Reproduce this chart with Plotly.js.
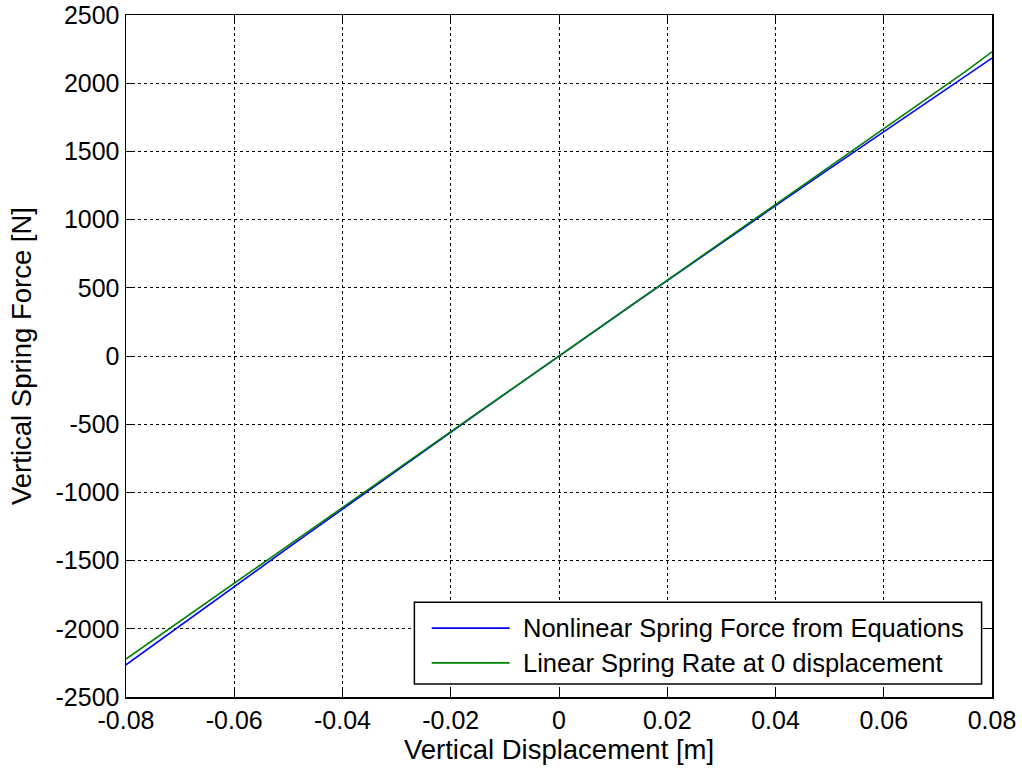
<!DOCTYPE html>
<html>
<head>
<meta charset="utf-8">
<script src="https://cdn.plot.ly/plotly-3.0.1.min.js"></script>
<style>html,body{margin:0;padding:0;background:#fff;}#chart{width:1022px;height:771px;}</style>
</head>
<body>
<div id="chart"></div>
<script>
const displacement = [-0.08,-0.075,-0.07,-0.065,-0.06,-0.055,-0.05,-0.045,-0.04,-0.035,-0.03,-0.025,-0.02,-0.015,-0.01,-0.005,0,0.005,0.01,0.015,0.02,0.025,0.03,0.035,0.04,0.045,0.05,0.055,0.06,0.065,0.07,0.075,0.08];
const nonlinearForce = [-2264,-2120,-1977,-1833,-1690,-1548,-1405,-1264,-1122,-981,-840,-699,-559,-418,-279,-139,0,139,277,416,553,691,828,965,1102,1238,1374,1510,1645,1780,1915,2050,2184];
const linearForce = [-2222,-2083,-1945,-1806,-1667,-1528,-1389,-1250,-1111,-972,-833,-694,-556,-417,-278,-139,0,139,278,417,556,694,833,972,1111,1250,1389,1528,1667,1806,1945,2083,2230];
const xTickVals = [-0.08,-0.06,-0.04,-0.02,0,0.02,0.04,0.06,0.08];
const xTickText = ["-0.08","-0.06","-0.04","-0.02","0","0.02","0.04","0.06","0.08"];
const yTickVals = [-2500,-2000,-1500,-1000,-500,0,500,1000,1500,2000,2500];
const yTickText = ["-2500","-2000","-1500","-1000","-500","0","500","1000","1500","2000","2500"];
const seriesNames = ["Nonlinear Spring Force from Equations","Linear Spring Rate at 0 displacement"];
const seriesColors = ["#0000ff", "#008000"];

const font = "Liberation Sans, Arial, sans-serif";
const traces = [
  {x: displacement, y: nonlinearForce, type: "scatter", mode: "lines", name: seriesNames[0], showlegend: false, line: {color: seriesColors[0], width: 1.6}},
  {x: displacement, y: linearForce, type: "scatter", mode: "lines", name: seriesNames[1], showlegend: false, line: {color: seriesColors[1], width: 1.6}}
];

// custom MATLAB-style legend box (paper coordinates)
const legBox = {x0: 0.333, x1: 0.988, y0: 0.019, y1: 0.139};
const legRows = [0.101, 0.050];
const legLine = [0.353, 0.443];
const shapes = [
  {type: "rect", xref: "paper", yref: "paper", x0: legBox.x0, x1: legBox.x1, y0: legBox.y0, y1: legBox.y1,
   fillcolor: "#fff", line: {color: "#000", width: 1.5}, layer: "above"}
];
const annotations = [];
seriesNames.forEach((nm, i) => {
  shapes.push({type: "line", xref: "paper", yref: "paper", x0: legLine[0], x1: legLine[1], y0: legRows[i], y1: legRows[i],
    line: {color: seriesColors[i], width: 1.6}, layer: "above"});
  annotations.push({xref: "paper", yref: "paper", x: 0.456, y: legRows[i], xanchor: "left", yanchor: "middle",
    text: nm, showarrow: false, font: {family: font, size: 25.5, color: "#000"}});
});

const axisCommon = {
  showline: true, linecolor: "#000", linewidth: 1.5, mirror: "ticks",
  ticks: "inside", ticklen: 9, tickcolor: "#000", tickwidth: 1,
  showgrid: true, gridcolor: "#000", griddash: "dot", gridwidth: 1,
  zeroline: false, tickmode: "array",
  tickfont: {family: font, size: 25, color: "#000"}
};
const layout = {
  width: 1022, height: 771,
  margin: {l: 126, r: 30, t: 15, b: 74},
  paper_bgcolor: "#fff", plot_bgcolor: "#fff",
  font: {family: font, color: "#000"},
  showlegend: false,
  shapes: shapes,
  annotations: annotations,
  xaxis: Object.assign({}, axisCommon, {
    range: [-0.08, 0.08], tickvals: xTickVals, ticktext: xTickText, ticklabelstandoff: 0,
    title: {text: "Vertical Displacement [m]", font: {family: font, size: 27.5, color: "#000"}, standoff: 2}
  }),
  yaxis: Object.assign({}, axisCommon, {
    range: [-2500, 2500], tickvals: yTickVals, ticktext: yTickText,
    title: {text: "Vertical Spring Force [N]", font: {family: font, size: 27.5, color: "#000"}, standoff: 16}
  })
};
Plotly.newPlot("chart", traces, layout, {displayModeBar: false, staticPlot: true});
</script>
</body>
</html>
